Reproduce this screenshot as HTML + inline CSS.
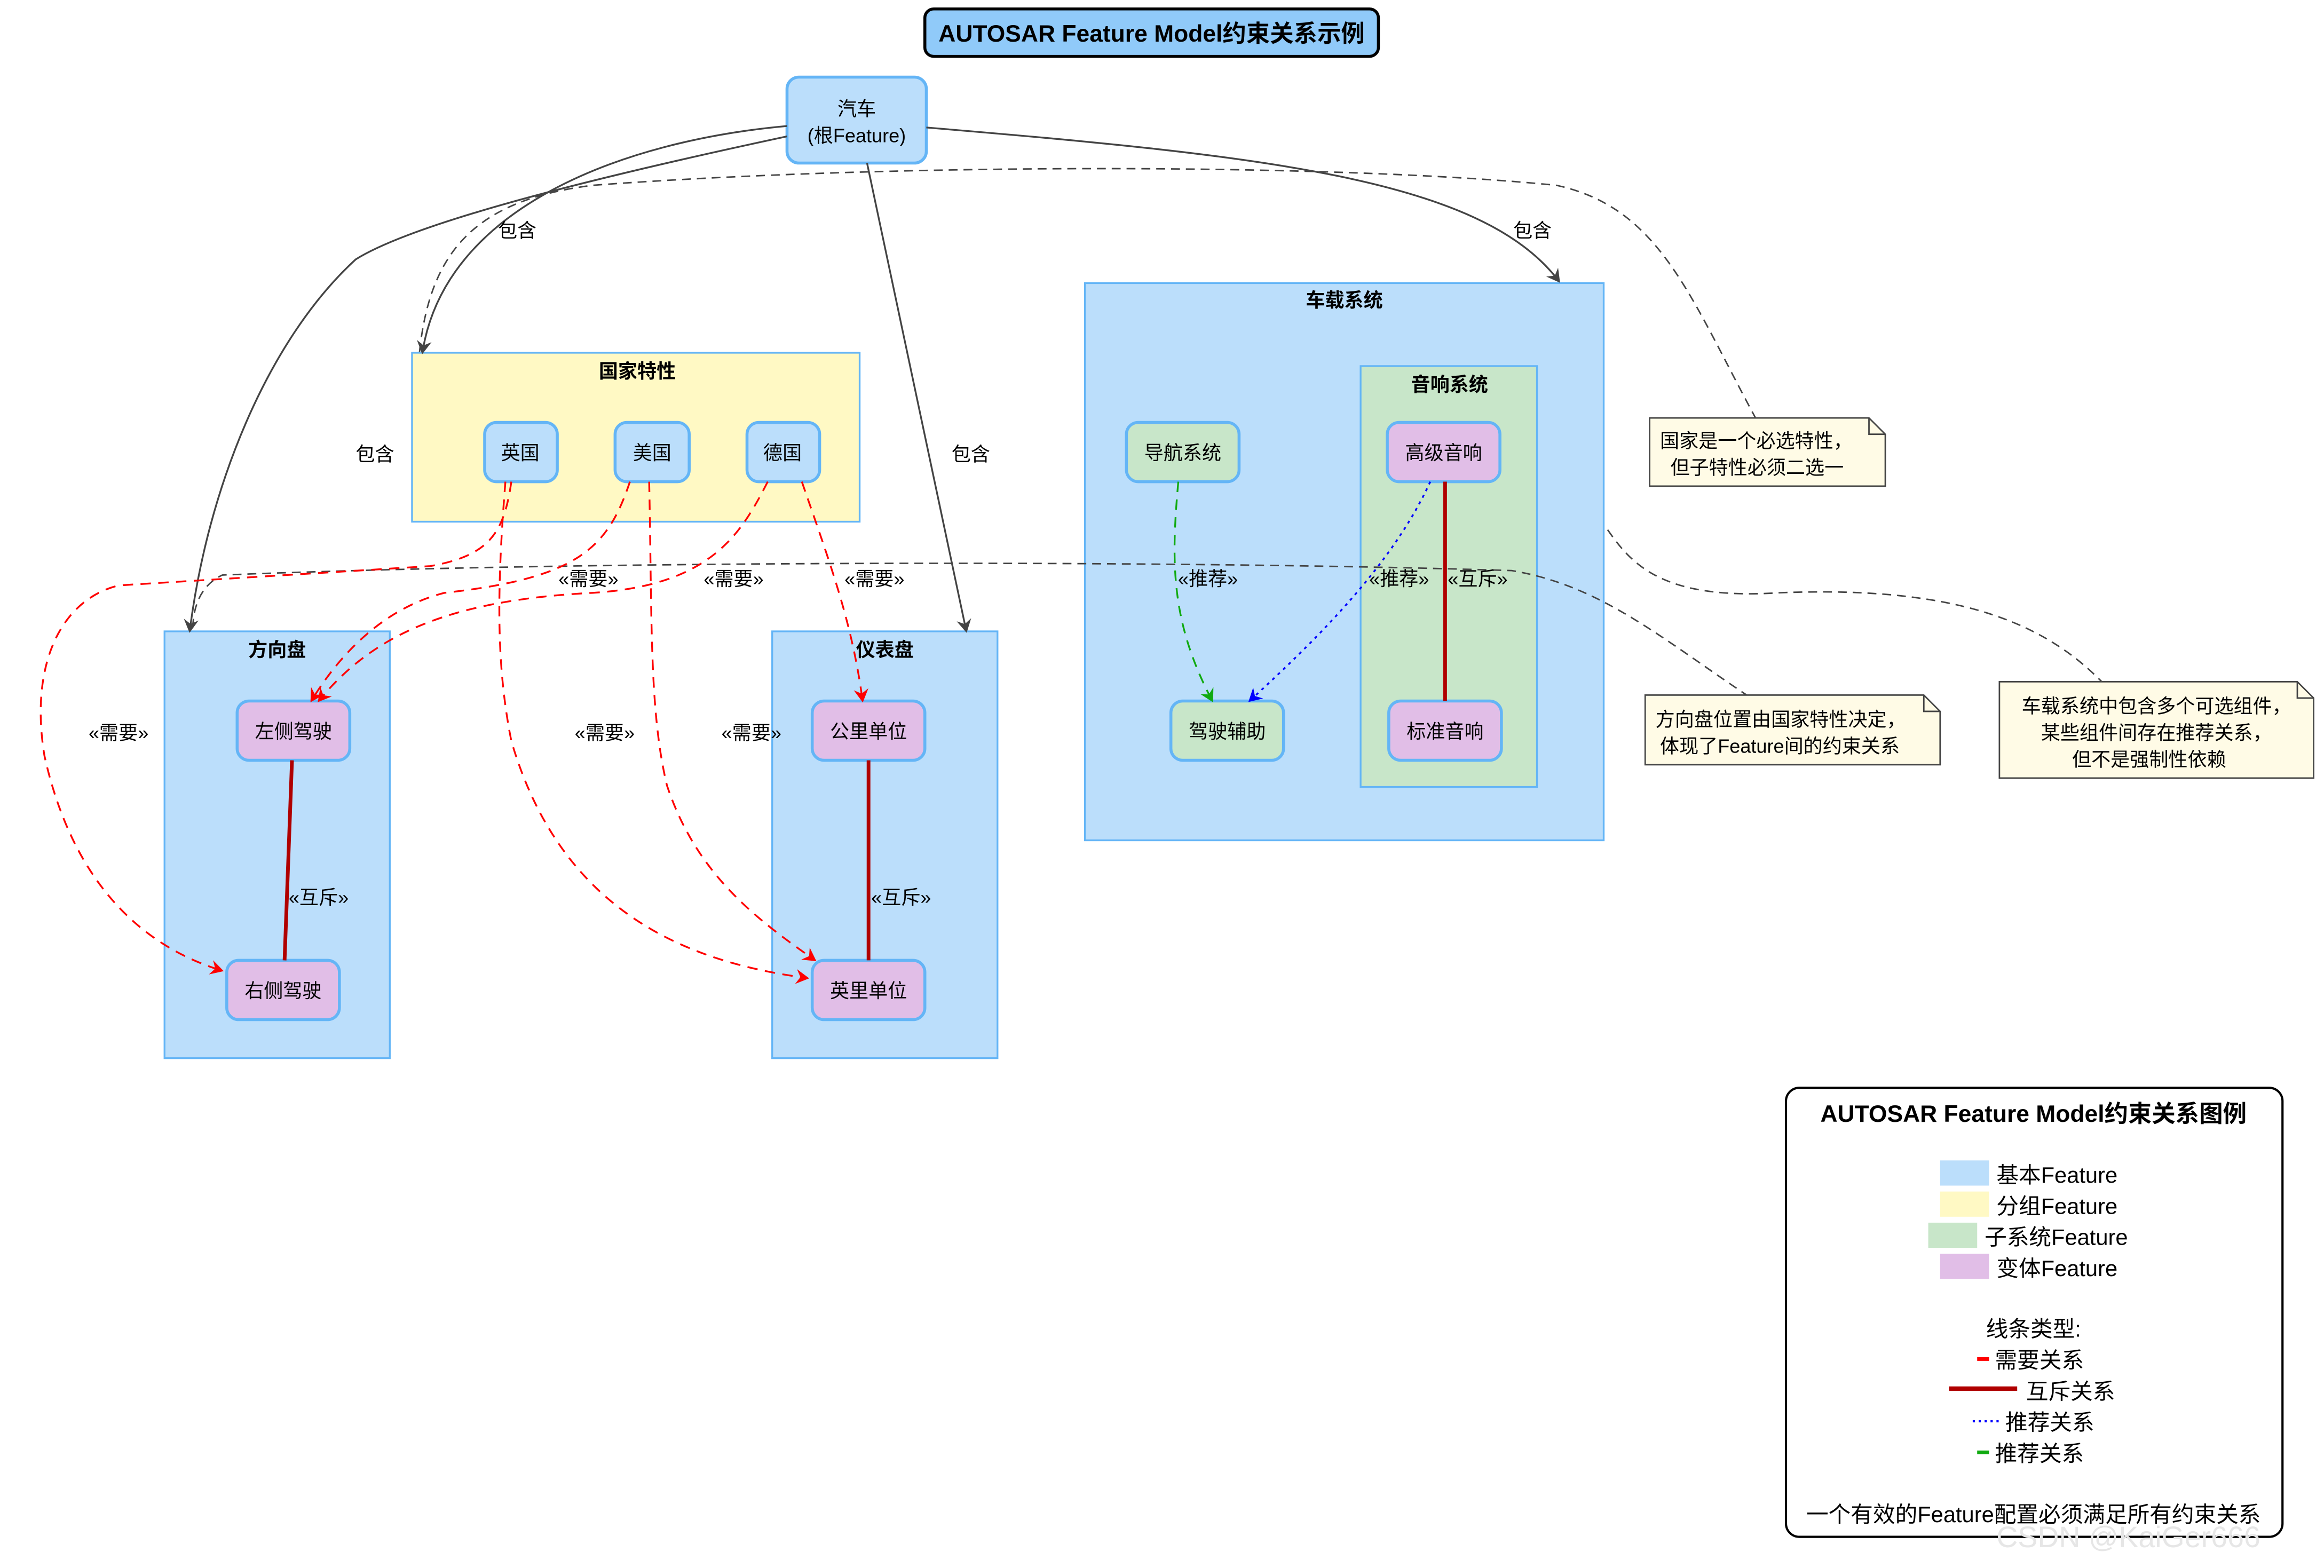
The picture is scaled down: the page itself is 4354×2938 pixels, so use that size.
<!DOCTYPE html>
<html><head><meta charset="utf-8">
<style>
html,body{margin:0;padding:0;background:#fff;}
svg{display:block;}
text{font-family:"Liberation Sans","Noto Sans CJK SC",sans-serif;fill:#000;}
</style></head>
<body>
<svg width="4354" height="2938" viewBox="0 0 1568 1058" xmlns="http://www.w3.org/2000/svg">
<defs>
<marker id="ag" markerWidth="10" markerHeight="10" refX="8" refY="5" orient="auto" markerUnits="userSpaceOnUse"><path d="M0,0 L9,5 L0,10 L3,5 Z" fill="#444"/></marker>
<marker id="ar" markerWidth="10" markerHeight="10" refX="8" refY="5" orient="auto" markerUnits="userSpaceOnUse"><path d="M0,0 L9,5 L0,10 L3,5 Z" fill="#f00"/></marker>
<marker id="agr" markerWidth="10" markerHeight="10" refX="8" refY="5" orient="auto" markerUnits="userSpaceOnUse"><path d="M0,0 L9,5 L0,10 L3,5 Z" fill="#1a1"/></marker>
<marker id="ab" markerWidth="10" markerHeight="10" refX="8" refY="5" orient="auto" markerUnits="userSpaceOnUse"><path d="M0,0 L9,5 L0,10 L3,5 Z" fill="#00f"/></marker>
</defs>
<rect width="1568" height="1058" fill="#fff"/>

<!-- title -->
<rect x="624" y="6" width="306" height="32" rx="6" fill="#90caf9" stroke="#000" stroke-width="2"/>
<text x="777" y="28" font-size="16" font-weight="bold" text-anchor="middle">AUTOSAR Feature Model约束关系示例</text>

<!-- containers -->
<rect x="278" y="238" width="302" height="114" fill="#fff9c4" stroke="#64b5f6" stroke-width="1.2"/>
<text x="430" y="255" font-size="13" font-weight="bold" text-anchor="middle">国家特性</text>
<rect x="732" y="191" width="350" height="376" fill="#bbdefb" stroke="#64b5f6" stroke-width="1.2"/>
<text x="907" y="207" font-size="13" font-weight="bold" text-anchor="middle">车载系统</text>
<rect x="918" y="247" width="119" height="284" fill="#c8e6c9" stroke="#64b5f6" stroke-width="1.2"/>
<text x="978" y="264" font-size="13" font-weight="bold" text-anchor="middle">音响系统</text>
<rect x="111" y="426" width="152" height="288" fill="#bbdefb" stroke="#64b5f6" stroke-width="1.2"/>
<text x="187" y="443" font-size="13" font-weight="bold" text-anchor="middle">方向盘</text>
<rect x="521" y="426" width="152" height="288" fill="#bbdefb" stroke="#64b5f6" stroke-width="1.2"/>
<text x="597" y="443" font-size="13" font-weight="bold" text-anchor="middle">仪表盘</text>

<!-- nodes -->
<g stroke="#64b5f6" stroke-width="2">
<rect x="531" y="52" width="94" height="58" rx="8" fill="#bbdefb"/>
<rect x="327" y="285" width="49" height="40" rx="8" fill="#bbdefb"/>
<rect x="415" y="285" width="50" height="40" rx="8" fill="#bbdefb"/>
<rect x="504" y="285" width="49" height="40" rx="8" fill="#bbdefb"/>
<rect x="760" y="285" width="76" height="40" rx="8" fill="#c8e6c9"/>
<rect x="790" y="473" width="76" height="40" rx="8" fill="#c8e6c9"/>
<rect x="936" y="285" width="76" height="40" rx="8" fill="#e1bee7"/>
<rect x="937" y="473" width="76" height="40" rx="8" fill="#e1bee7"/>
<rect x="160" y="473" width="76" height="40" rx="8" fill="#e1bee7"/>
<rect x="153" y="648" width="76" height="40" rx="8" fill="#e1bee7"/>
<rect x="548" y="473" width="76" height="40" rx="8" fill="#e1bee7"/>
<rect x="548" y="648" width="76" height="40" rx="8" fill="#e1bee7"/>
</g>
<g font-size="13" text-anchor="middle">
<text x="578" y="78">汽车</text>
<text x="578" y="96">(根Feature)</text>
<text x="351" y="310">英国</text>
<text x="440" y="310">美国</text>
<text x="528" y="310">德国</text>
<text x="798" y="310">导航系统</text>
<text x="828" y="498">驾驶辅助</text>
<text x="974" y="310">高级音响</text>
<text x="975" y="498">标准音响</text>
<text x="198" y="498">左侧驾驶</text>
<text x="191" y="673">右侧驾驶</text>
<text x="586" y="498">公里单位</text>
<text x="586" y="673">英里单位</text>
</g>

<!-- contains edges -->
<g fill="none" stroke="#444" stroke-width="1.2">
<path d="M531,85 C420,95 300,140 285,238" marker-end="url(#ag)"/>
<path d="M531,92 C400,120 280,150 240,175 C180,230 140,330 128,426" marker-end="url(#ag)"/>
<path d="M585,110 L652,426" marker-end="url(#ag)"/>
<path d="M625,86 C850,105 1000,120 1052,190" marker-end="url(#ag)"/>
</g>
<g font-size="13">
<text x="336" y="160">包含</text>
<text x="240" y="311">包含</text>
<text x="642" y="311">包含</text>
<text x="1021" y="160">包含</text>
</g>

<!-- note connectors -->
<g fill="none" stroke="#444" stroke-width="1" stroke-dasharray="6,4">
<path d="M1185,283 C1140,200 1120,140 1050,125 C900,110 600,110 400,125 C320,135 290,170 283,238"/>
<path d="M1180,470 C1120,430 1080,395 1020,385 C800,378 400,378 150,388 C135,395 130,410 130,426"/>
<path d="M1420,462 C1380,420 1320,395 1200,400 C1120,405 1100,380 1083,355"/>
</g>

<!-- requires -->
<g fill="none" stroke="#f00" stroke-width="1.2" stroke-dasharray="7,5">
<path d="M345,325 C340,360 330,375 290,382 L80,395 C40,405 20,450 30,510 C50,600 100,640 150,655" marker-end="url(#ar)"/>
<path d="M341,325 C335,400 335,450 345,500 C380,620 470,650 545,660" marker-end="url(#ar)"/>
<path d="M425,325 C410,370 390,390 300,400 C260,410 230,440 210,473" marker-end="url(#ar)"/>
<path d="M438,325 C440,420 438,480 450,530 C470,590 510,620 550,648" marker-end="url(#ar)"/>
<path d="M518,325 C500,360 480,395 400,400 C300,405 250,430 215,473" marker-end="url(#ar)"/>
<path d="M541,325 C560,380 575,420 582,473" marker-end="url(#ar)"/>
</g>
<g font-size="13" text-anchor="middle">
<text x="80" y="499">«需要»</text>
<text x="408" y="499">«需要»</text>
<text x="397" y="395">«需要»</text>
<text x="507" y="499">«需要»</text>
<text x="495" y="395">«需要»</text>
<text x="590" y="395">«需要»</text>
<text x="815" y="395">«推荐»</text>
<text x="944" y="395">«推荐»</text>
<text x="997" y="395">«互斥»</text>
<text x="215" y="610">«互斥»</text>
<text x="608" y="610">«互斥»</text>
</g>
<path d="M795,325 C790,380 790,420 818,473" fill="none" stroke="#1a1" stroke-width="1.2" stroke-dasharray="7,5" marker-end="url(#agr)"/>
<path d="M965,325 C940,380 890,430 843,473" fill="none" stroke="#00f" stroke-width="1.2" stroke-dasharray="2,3" marker-end="url(#ab)"/>
<g stroke="#b00000" stroke-width="2.5">
<line x1="975" y1="325" x2="975" y2="473"/>
<line x1="197" y1="513" x2="192" y2="648"/>
<line x1="586" y1="513" x2="586" y2="648"/>
</g>

<!-- notes -->
<g fill="#fffbe6" stroke="#444" stroke-width="1">
<path d="M1113,282 H1261 L1272,293 V328 H1113 Z"/>
<path d="M1110,469 H1298 L1309,480 V516 H1110 Z"/>
<path d="M1349,460 H1550 L1561,471 V525 H1349 Z"/>
</g>
<g fill="none" stroke="#444" stroke-width="1">
<path d="M1261,282 V293 H1272"/><path d="M1298,469 V480 H1309"/><path d="M1550,460 V471 H1561"/>
</g>
<g font-size="13">
<text x="1120" y="302">国家是一个必选特性，</text>
<text x="1127" y="320">但子特性必须二选一</text>
<text x="1117" y="490">方向盘位置由国家特性决定，</text>
<text x="1120" y="508">体现了Feature间的约束关系</text>
<text x="1455" y="481" text-anchor="middle">车载系统中包含多个可选组件，</text>
<text x="1455" y="499" text-anchor="middle">某些组件间存在推荐关系，</text>
<text x="1450" y="517" text-anchor="middle">但不是强制性依赖</text>
</g>

<!-- legend -->
<rect x="1205" y="734" width="335" height="303" rx="9" fill="#fff" stroke="#000" stroke-width="1.5"/>
<text x="1372" y="757" font-size="16" font-weight="bold" text-anchor="middle">AUTOSAR Feature Model约束关系图例</text>
<rect x="1309" y="783" width="33" height="17" fill="#bbdefb"/>
<rect x="1309" y="804" width="33" height="17" fill="#fff9c4"/>
<rect x="1301" y="825" width="33" height="17" fill="#c8e6c9"/>
<rect x="1309" y="846" width="33" height="17" fill="#e1bee7"/>
<g font-size="15">
<text x="1347" y="798">基本Feature</text>
<text x="1347" y="819">分组Feature</text>
<text x="1339" y="840">子系统Feature</text>
<text x="1347" y="861">变体Feature</text>
<text x="1372" y="902" text-anchor="middle">线条类型:</text>
<text x="1346" y="923">需要关系</text>
<text x="1367" y="944">互斥关系</text>
<text x="1353" y="965">推荐关系</text>
<text x="1346" y="986">推荐关系</text>
<text x="1372" y="1027" text-anchor="middle">一个有效的Feature配置必须满足所有约束关系</text>
</g>
<line x1="1334" y1="917" x2="1342" y2="917" stroke="#f00" stroke-width="2.5"/>
<line x1="1315" y1="937" x2="1361" y2="937" stroke="#b00000" stroke-width="3"/>
<line x1="1331" y1="959" x2="1349" y2="959" stroke="#00f" stroke-width="1.5" stroke-dasharray="1.5,2.5"/>
<line x1="1334" y1="980" x2="1342" y2="980" stroke="#1a1" stroke-width="2.5"/>

<text x="1436" y="1044" font-size="20" text-anchor="middle" style="fill:#e6e6e6">CSDN @KaiGer666</text>
</svg>
</body></html>
